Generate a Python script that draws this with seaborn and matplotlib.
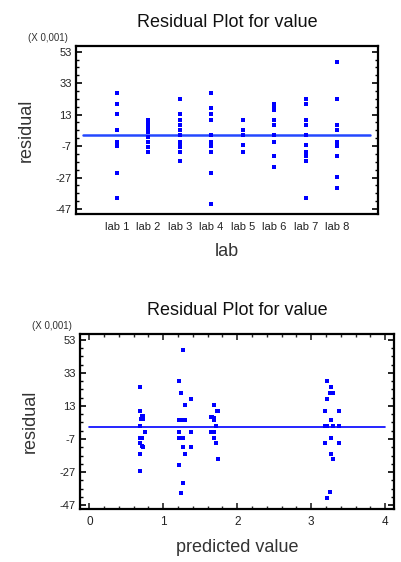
import numpy as np
import pandas as pd
import matplotlib
matplotlib.use("Agg")
import matplotlib.pyplot as plt
from matplotlib.ticker import FixedLocator, MultipleLocator
import seaborn as sns

# ---------------- data ----------------
labs = ["lab 1", "lab 2", "lab 3", "lab 4", "lab 5", "lab 6", "lab 7", "lab 8"]
res_lab1 = [26.9, 19.5, 13.4, 3.4, -4.2, -5.5, -6.8, -24.0, -40.0]
res_lab2 = [9.6, 6.8, 4.5, 2.0, -1.0, -4.2, -7.4, -10.6]
res_lab3 = [23.0, 13.3, 9.6, 6.4, 3.2, 0.0, -4.2, -6.3, -7.8, -10.6, -16.8]
res_lab4 = [26.9, 17.4, 13.5, 9.6, 0.0, -4.2, -5.5, -7.0, -10.6, -24.0, -43.8]
res_lab5 = [9.6, 3.2, 0.0, -6.5, -10.6]
res_lab6 = [20.0, 18.5, 17.0, 16.0, 9.6, 6.4, 0.0, -4.2, -13.5, -20.1]
res_lab7 = [23.0, 19.6, 9.6, 6.4, 0.0, -6.5, -10.6, -13.3, -16.5, -40.0]
res_lab8 = [46.6, 23.1, 6.4, 3.5, -4.2, -5.2, -6.8, -13.3, -26.5, -33.8]
res_by_lab = [res_lab1, res_lab2, res_lab3, res_lab4, res_lab5, res_lab6, res_lab7, res_lab8]

pred_values = [
    0.69, 0.69, 0.71, 0.73, 0.70, 0.72, 0.69, 0.75, 0.68, 0.71, 0.69, 0.71, 0.72, 0.69, 0.69,
    1.27, 1.21, 1.24, 1.29, 1.38, 1.21, 1.24, 1.27, 1.29, 1.21, 1.38, 1.21, 1.24, 1.27, 1.27,
    1.38, 1.30, 1.21, 1.27, 1.24,
    1.685, 1.72, 1.74, 1.64, 1.66, 1.685, 1.685, 1.71, 1.64, 1.66, 1.69, 1.685, 1.71, 1.74,
    3.22, 3.27, 3.26, 3.29, 3.22, 3.19, 3.38, 3.27, 3.19, 3.22, 3.30, 3.38, 3.27, 3.19, 3.38,
    3.27, 3.30, 3.25, 3.22,
]
pred_resid = [
    24.2, 10.1, 7.0, 7.0, 5.0, 5.0, 1.0, -3.0, -6.3, -6.3, -9.7, -11.0, -12.1, -15.8, -26.5,
    46.8, 28.1, 21.0, 13.7, 17.3, 4.4, 4.4, 4.4, 4.4, -2.8, -2.8, -6.3, -6.3, -6.3, -12.1,
    -12.1, -15.8, -22.8, -33.6, -39.6,
    13.7, 10.1, 10.1, 6.5, 6.5, 5.5, 4.4, 0.8, -2.8, -2.8, -2.8, -6.3, -9.7, -19.4,
    28.1, 24.2, 21.0, 21.0, 17.2, 10.1, 10.1, 4.4, 0.8, 0.8, 0.8, 0.8, -6.3, -9.7, -9.7,
    -15.8, -19.2, -39.4, -42.7,
]
y_major = [-47, -27, -7, 13, 33, 53]
x2_major = [0, 1, 2, 3, 4]
pred_line_range = [0, 4]

title_text = "Residual Plot for value"
scale_text = "(X 0,001)"

# ---------------- style ----------------
sns.set_style("ticks")
plt.rcParams["font.family"] = ["Liberation Sans", "DejaVu Sans"]
plt.rcParams["axes.unicode_minus"] = False

BLUE = "#0000ff"
LINE_BLUE = "#2448ff"

fig = plt.figure(figsize=(4.02, 5.62), dpi=100)
ax1 = fig.add_axes([76 / 402, 1 - 214 / 562, 301.7 / 402, 168 / 562])
ax2 = fig.add_axes([80 / 402, 1 - 509 / 562, 314 / 402, 175 / 562])

df_top = pd.DataFrame({
    "lab": [lab for lab, vals in zip(labs, res_by_lab) for _ in vals],
    "residual": [v for vals in res_by_lab for v in vals],
})
df_bot = pd.DataFrame({"predicted value": pred_values, "residual": pred_resid})

# top: residual by lab
sns.stripplot(data=df_top, x="lab", y="residual", order=labs, jitter=False,
              marker="s", size=2.4, color=BLUE, linewidth=0, ax=ax1, zorder=3)
ax1.set_xlim(-1.3, 8.28)
ax1.set_ylim(-50.2, 56.6)
ax1.axhline(0, xmin=0.023, xmax=0.974, color=LINE_BLUE, lw=1.8, zorder=2)

# bottom: residual vs predicted
sns.scatterplot(data=df_bot, x="predicted value", y="residual", marker="s", s=7,
                color=BLUE, linewidth=0, ax=ax2, zorder=3)
xlo, xhi = -0.126, 4.12
ax2.set_xlim(xlo, xhi)
ax2.set_ylim(-49.4, 56.6)
ax2.axhline(0, xmin=(pred_line_range[0] - xlo) / (xhi - xlo),
            xmax=(pred_line_range[1] - xlo) / (xhi - xlo), color=BLUE, lw=1.2, zorder=2)

minor_y = np.arange(y_major[0], y_major[-1] + 1, 5)
for ax in (ax1, ax2):
    ax.yaxis.set_major_locator(FixedLocator(y_major))
    ax.yaxis.set_minor_locator(FixedLocator(minor_y))
    for sp in ax.spines.values():
        sp.set_visible(True)
        sp.set_linewidth(1.6)
        sp.set_color("black")
    ax.tick_params(axis="y", which="both", direction="in", left=True, right=True,
                   labelsize=8, pad=3, colors="black", labelcolor="#222222")
    ax.tick_params(axis="y", which="major", length=4, width=1.2)
    ax.tick_params(axis="y", which="minor", length=2.5, width=1.0)
    ax.set_title(title_text, fontsize=13, pad=13.5, color="#111111")
    ax.set_ylabel("residual", fontsize=13, labelpad=15, color="#333333")
    ax.text(-0.027, 1.048, scale_text, transform=ax.transAxes, ha="right", va="center",
            fontsize=7, color="#333333")

ax1.tick_params(axis="x", which="both", length=0, labelsize=8, pad=6, labelcolor="#222222")
ax1.set_xlabel("lab", fontsize=13, labelpad=8, color="#333333")

ax2.xaxis.set_major_locator(FixedLocator(x2_major))
ax2.xaxis.set_minor_locator(MultipleLocator(0.2))
ax2.tick_params(axis="x", which="both", direction="in", bottom=True, top=True,
                labelsize=8.5, pad=5, labelcolor="#222222")
ax2.tick_params(axis="x", which="major", length=4, width=1.2)
ax2.tick_params(axis="x", which="minor", length=2.5, width=1.0)
ax2.set_xlabel("predicted value", fontsize=13, labelpad=8, color="#333333")

fig.savefig("out.png", dpi=100)
